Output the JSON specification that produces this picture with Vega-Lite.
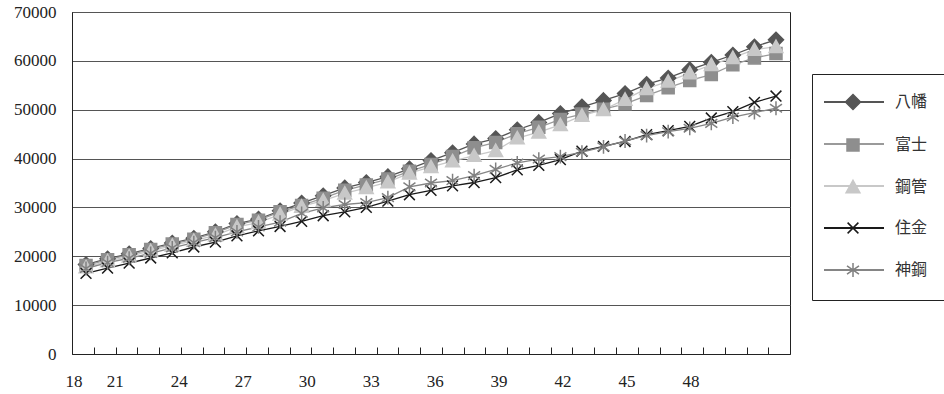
{
  "$schema": "https://vega.github.io/schema/vega-lite/v6.json",
  "width": 718,
  "height": 342,
  "autosize": {"type": "none"},
  "padding": {"left": 72, "top": 12, "right": 154, "bottom": 40},
  "background": "white",
  "config": {
    "font": "Liberation Serif",
    "view": {"stroke": "#222", "strokeWidth": 1},
    "axis": {"labelFont": "Liberation Serif", "labelFontSize": 17, "labelColor": "#222", "domainColor": "#222", "tickColor": "#222", "title": null},
    "legend": {
      "title": null,
      "orient": "none",
      "legendX": 740,
      "legendY": 62,
      "padding": 20,
      "rowPadding": 26,
      "labelFont": "Noto Sans CJK JP",
      "labelFontSize": 16,
      "labelColor": "#333"
    }
  },
  "datasets": {
    "d": [
      {"company":"八幡","year":19,"value":18300},{"company":"八幡","year":20,"value":19500},{"company":"八幡","year":21,"value":20500},{"company":"八幡","year":22,"value":21600},{"company":"八幡","year":23,"value":22700},{"company":"八幡","year":24,"value":23700},{"company":"八幡","year":25,"value":25000},{"company":"八幡","year":26,"value":26700},{"company":"八幡","year":27,"value":27600},{"company":"八幡","year":28,"value":29300},{"company":"八幡","year":29,"value":30900},{"company":"八幡","year":30,"value":32400},{"company":"八幡","year":31,"value":34000},{"company":"八幡","year":32,"value":35100},{"company":"八幡","year":33,"value":36300},{"company":"八幡","year":34,"value":37900},{"company":"八幡","year":35,"value":39600},{"company":"八幡","year":36,"value":41200},{"company":"八幡","year":37,"value":43000},{"company":"八幡","year":38,"value":44100},{"company":"八幡","year":39,"value":45900},{"company":"八幡","year":40,"value":47400},{"company":"八幡","year":41,"value":49200},{"company":"八幡","year":42,"value":50600},{"company":"八幡","year":43,"value":51900},{"company":"八幡","year":44,"value":53300},{"company":"八幡","year":45,"value":55200},{"company":"八幡","year":46,"value":56500},{"company":"八幡","year":47,"value":58200},{"company":"八幡","year":48,"value":59700},{"company":"八幡","year":49,"value":61200},{"company":"八幡","year":50,"value":62900},{"company":"八幡","year":51,"value":64300},
      {"company":"富士","year":19,"value":18100},{"company":"富士","year":20,"value":19300},{"company":"富士","year":21,"value":20300},{"company":"富士","year":22,"value":21400},{"company":"富士","year":23,"value":22500},{"company":"富士","year":24,"value":23500},{"company":"富士","year":25,"value":24800},{"company":"富士","year":26,"value":26500},{"company":"富士","year":27,"value":27400},{"company":"富士","year":28,"value":29100},{"company":"富士","year":29,"value":30400},{"company":"富士","year":30,"value":31900},{"company":"富士","year":31,"value":33500},{"company":"富士","year":32,"value":34600},{"company":"富士","year":33,"value":35800},{"company":"富士","year":34,"value":37400},{"company":"富士","year":35,"value":38800},{"company":"富士","year":36,"value":40400},{"company":"富士","year":37,"value":42200},{"company":"富士","year":38,"value":43300},{"company":"富士","year":39,"value":45100},{"company":"富士","year":40,"value":46400},{"company":"富士","year":41,"value":48000},{"company":"富士","year":42,"value":49100},{"company":"富士","year":43,"value":50100},{"company":"富士","year":44,"value":51200},{"company":"富士","year":45,"value":52900},{"company":"富士","year":46,"value":54500},{"company":"富士","year":47,"value":56000},{"company":"富士","year":48,"value":57200},{"company":"富士","year":49,"value":59200},{"company":"富士","year":50,"value":60600},{"company":"富士","year":51,"value":61500},
      {"company":"鋼管","year":19,"value":17800},{"company":"鋼管","year":20,"value":19000},{"company":"鋼管","year":21,"value":20000},{"company":"鋼管","year":22,"value":21100},{"company":"鋼管","year":23,"value":22200},{"company":"鋼管","year":24,"value":23200},{"company":"鋼管","year":25,"value":24300},{"company":"鋼管","year":26,"value":26000},{"company":"鋼管","year":27,"value":26900},{"company":"鋼管","year":28,"value":28600},{"company":"鋼管","year":29,"value":30200},{"company":"鋼管","year":30,"value":31400},{"company":"鋼管","year":31,"value":32900},{"company":"鋼管","year":32,"value":34000},{"company":"鋼管","year":33,"value":35200},{"company":"鋼管","year":34,"value":37000},{"company":"鋼管","year":35,"value":38300},{"company":"鋼管","year":36,"value":39500},{"company":"鋼管","year":37,"value":40600},{"company":"鋼管","year":38,"value":41600},{"company":"鋼管","year":39,"value":44200},{"company":"鋼管","year":40,"value":45400},{"company":"鋼管","year":41,"value":46900},{"company":"鋼管","year":42,"value":48800},{"company":"鋼管","year":43,"value":50000},{"company":"鋼管","year":44,"value":52100},{"company":"鋼管","year":45,"value":54300},{"company":"鋼管","year":46,"value":55800},{"company":"鋼管","year":47,"value":57500},{"company":"鋼管","year":48,"value":59200},{"company":"鋼管","year":49,"value":60650},{"company":"鋼管","year":50,"value":62300},{"company":"鋼管","year":51,"value":62900},
      {"company":"住金","year":19,"value":16500},{"company":"住金","year":20,"value":17600},{"company":"住金","year":21,"value":18600},{"company":"住金","year":22,"value":19650},{"company":"住金","year":23,"value":20700},{"company":"住金","year":24,"value":21900},{"company":"住金","year":25,"value":22900},{"company":"住金","year":26,"value":24200},{"company":"住金","year":27,"value":25200},{"company":"住金","year":28,"value":26100},{"company":"住金","year":29,"value":27150},{"company":"住金","year":30,"value":28300},{"company":"住金","year":31,"value":29100},{"company":"住金","year":32,"value":30000},{"company":"住金","year":33,"value":31300},{"company":"住金","year":34,"value":32600},{"company":"住金","year":35,"value":33500},{"company":"住金","year":36,"value":34400},{"company":"住金","year":37,"value":35100},{"company":"住金","year":38,"value":36100},{"company":"住金","year":39,"value":37700},{"company":"住金","year":40,"value":38600},{"company":"住金","year":41,"value":39800},{"company":"住金","year":42,"value":41500},{"company":"住金","year":43,"value":42500},{"company":"住金","year":44,"value":43500},{"company":"住金","year":45,"value":44900},{"company":"住金","year":46,"value":45700},{"company":"住金","year":47,"value":46600},{"company":"住金","year":48,"value":48300},{"company":"住金","year":49,"value":49600},{"company":"住金","year":50,"value":51500},{"company":"住金","year":51,"value":52800},
      {"company":"神鋼","year":19,"value":17500},{"company":"神鋼","year":20,"value":18700},{"company":"神鋼","year":21,"value":19600},{"company":"神鋼","year":22,"value":20600},{"company":"神鋼","year":23,"value":21700},{"company":"神鋼","year":24,"value":22800},{"company":"神鋼","year":25,"value":23800},{"company":"神鋼","year":26,"value":25000},{"company":"神鋼","year":27,"value":26000},{"company":"神鋼","year":28,"value":27000},{"company":"神鋼","year":29,"value":28800},{"company":"神鋼","year":30,"value":29900},{"company":"神鋼","year":31,"value":30600},{"company":"神鋼","year":32,"value":31000},{"company":"神鋼","year":33,"value":32000},{"company":"神鋼","year":34,"value":34200},{"company":"神鋼","year":35,"value":35000},{"company":"神鋼","year":36,"value":35500},{"company":"神鋼","year":37,"value":36500},{"company":"神鋼","year":38,"value":37800},{"company":"神鋼","year":39,"value":39100},{"company":"神鋼","year":40,"value":39900},{"company":"神鋼","year":41,"value":40400},{"company":"神鋼","year":42,"value":41300},{"company":"神鋼","year":43,"value":42400},{"company":"神鋼","year":44,"value":43600},{"company":"神鋼","year":45,"value":44700},{"company":"神鋼","year":46,"value":45500},{"company":"神鋼","year":47,"value":46200},{"company":"神鋼","year":48,"value":47200},{"company":"神鋼","year":49,"value":48500},{"company":"神鋼","year":50,"value":49400},{"company":"神鋼","year":51,"value":50300}
    ]
  },
  "data": {"name": "d"},
  "layer": [
    {
      "mark": {"type": "point", "opacity": 0},
      "encoding": {
        "x": {
          "field": "year", "type": "quantitative",
          "scale": {"domain": [19, 52.66], "nice": false, "zero": false},
          "axis": {"orient": "bottom", "values": [19.07, 21, 24, 27, 30, 33, 36, 39, 42, 45, 48], "labelExpr": "datum.value < 20 ? '18' : format(datum.value, 'd')", "ticks": false, "domain": false, "grid": false, "labelPadding": 19, "labelFlush": false, "labelOverlap": false}
        }
      }
    },
    {
      "mark": {"type": "line", "strokeWidth": 1.3},
      "encoding": {
        "x": {
          "field": "year", "type": "quantitative",
          "scale": {"domain": [18.35, 51.65], "nice": false, "zero": false},
          "axis": {"orient": "bottom", "values": [19.359, 20.368, 21.378, 22.387, 23.396, 24.405, 25.414, 26.424, 27.433, 28.442, 29.451, 30.46, 31.47, 32.479, 33.488, 34.497, 35.506, 36.516, 37.525, 38.534, 39.543, 40.552, 41.562, 42.571, 43.58, 44.589, 45.598, 46.608, 47.617, 48.626, 49.635, 50.644], "labels": false, "tickSize": -7, "grid": false, "domain": true}
        },
        "y": {
          "field": "value", "type": "quantitative",
          "scale": {"domain": [0, 70000], "nice": false},
          "axis": {"values": [0, 10000, 20000, 30000, 40000, 50000, 60000, 70000], "format": "d", "ticks": false, "labelPadding": 16, "grid": true, "gridColor": "#555", "gridWidth": 1, "domain": true}
        },
        "color": {
          "field": "company", "type": "nominal",
          "scale": {"domain": ["神鋼", "住金", "鋼管", "富士", "八幡"], "range": ["#858585", "#1a1a1a", "#c8c8c8", "#9a9a9a", "#555555"]},
          "legend": {
            "values": ["八幡", "富士", "鋼管", "住金", "神鋼"],
            "symbolType": "M-6,0H6",
            "symbolSize": 100,
            "symbolStrokeWidth": 2,
            "symbolOffset": 14,
            "labelOffset": 35,
            "labelOpacity": 0,
            "strokeColor": "transparent",
            "fillColor": "transparent"
          }
        }
      }
    },
    {
      "mark": {"type": "point", "filled": true, "size": 144, "strokeWidth": 1.5, "opacity": 1},
      "encoding": {
        "x": {
          "field": "year", "type": "quantitative",
          "scale": {"domain": [18.35, 51.65], "nice": false, "zero": false},
          "axis": null
        },
        "y": {"field": "value", "type": "quantitative"},
        "fill": {
          "field": "company", "type": "nominal",
          "scale": {"domain": ["八幡", "富士", "鋼管", "住金", "神鋼"], "range": ["#555555", "#8e8e8e", "#c8c8c8", "#1a1a1a", "#808080"]},
          "legend": {"symbolSize": 144, "symbolOffset": 13, "labelOffset": 34, "rowPadding": 23, "symbolStrokeWidth": 1.5, "strokeColor": "#222", "fillColor": "transparent"}
        },
        "stroke": {
          "field": "company", "type": "nominal",
          "scale": {"domain": ["八幡", "富士", "鋼管", "住金", "神鋼"], "range": ["#555555", "#8e8e8e", "#c8c8c8", "#1a1a1a", "#808080"]},
          "legend": {"symbolSize": 144, "symbolOffset": 13, "labelOffset": 34, "rowPadding": 23, "symbolStrokeWidth": 1.5, "strokeColor": "#222", "fillColor": "transparent"}
        },
        "shape": {
          "field": "company", "type": "nominal",
          "scale": {"domain": ["八幡", "富士", "鋼管", "住金", "神鋼"], "range": ["M0,-1.25L1.25,0L0,1.25L-1.25,0Z", "M-1,-1H1V1H-1Z", "M0,-1.1L1.15,0.95H-1.15Z", "M-0.9,-0.9L0.9,0.9M-0.9,0.9L0.9,-0.9", "M0,-1.15V1.15M-1,-0.7L1,0.7M-1,0.7L1,-0.7"]},
          "legend": {"symbolSize": 144, "symbolOffset": 13, "labelOffset": 34, "rowPadding": 23, "symbolStrokeWidth": 1.5, "strokeColor": "#222", "fillColor": "transparent"}
        }
      }
    }
  ],
  "resolve": {"scale": {"x": "independent"}, "axis": {"x": "independent"}}
}
